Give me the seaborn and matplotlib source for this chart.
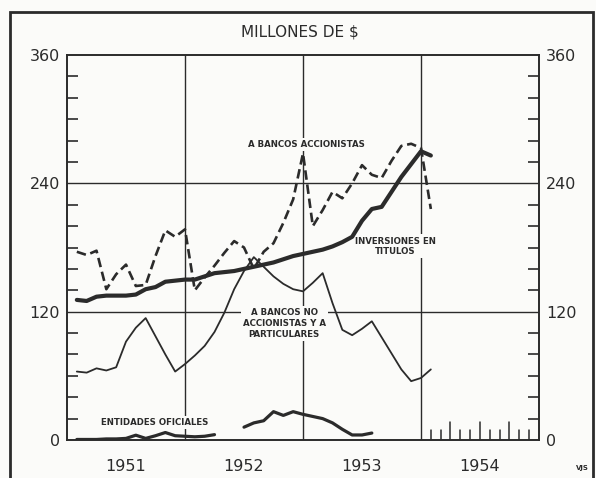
import matplotlib
matplotlib.use("Agg")

import matplotlib.pyplot as plt
import matplotlib.patches as mpatches
from matplotlib.ticker import MultipleLocator
import numpy as np
import pandas as pd
import seaborn as sns

# meses contados desde enero 1951 (1 = fin de enero 1951 ... 37 = fin de enero 1954)
meses = list(range(1, 38))

a_bancos_accionistas = [176, 173, 177, 141, 155, 164, 144, 145, 172, 196, 190, 197,
                        140, 152, 163, 175, 186, 180, 160, 176, 184, 203, 225, 268,
                        200, 215, 232, 226, 240, 257, 248, 245, 261, 275, 277, 273, 216]

inversiones_en_titulos = [131, 130, 134, 135, 135, 135, 136, 141, 143, 148, 149, 150,
                          150, 153, 156, 157, 158, 160, 162, 164, 166, 169, 172, 174,
                          176, 178, 181, 185, 190, 205, 216, 218, 232, 246, 258, 270, 266]

a_bancos_no_accionistas = [64, 63, 67, 65, 68, 92, 105, 114, 97, 80, 64, 71,
                           79, 88, 101, 119, 141, 158, 171, 162, 153, 146, 141, 139,
                           147, 156, 128, 103, 98, 104, 111, 96, 81, 66, 55, 58, 66]

nan = np.nan
entidades_oficiales = [0.5, 0.5, 0.5, 1, 1, 1.5, 4.5, 1.5, 4, 7, 4, 3.5,
                       3, 3.5, 5, nan, nan, 12, 16, 18, 26.5, 23, 26.5, 24,
                       22, 20, 16, 10, 4.7, 4.7, 6.5, nan, nan, nan, nan, nan, nan]

anios = ["1951", "1952", "1953", "1954"]
ticks_y = [0, 120, 240, 360]

df = pd.DataFrame({
    "mes": meses,
    "accionistas": a_bancos_accionistas,
    "inversiones": inversiones_en_titulos,
    "no_accionistas": a_bancos_no_accionistas,
    "oficiales": entidades_oficiales,
})
ofi = df[["mes", "oficiales"]].dropna().copy()
ofi["tramo"] = (ofi["mes"] > 16).astype(int)

sns.set_style("white")
plt.rcParams["font.family"] = ["DejaVu Sans"]

tinta = "#2b2b2b"
fondo = "#fbfbf9"

fig = plt.figure(figsize=(5.96, 4.78), dpi=100, facecolor=fondo)
ax = fig.add_axes([67 / 596, 38 / 478, 472 / 596, 385 / 478])
ax.set_facecolor(fondo)

# reticula
for m in [12, 24, 36]:
    ax.axvline(m, color=tinta, lw=1.0, zorder=1)
for v in [120, 240]:
    ax.axhline(v, color=tinta, lw=1.0, zorder=1)

sns.lineplot(data=df, x="mes", y="accionistas", ax=ax, color=tinta, lw=1.9,
             linestyle=(0, (3.6, 1.8)), zorder=3)
sns.lineplot(data=df, x="mes", y="inversiones", ax=ax, color=tinta, lw=3.0, zorder=3)
sns.lineplot(data=df, x="mes", y="no_accionistas", ax=ax, color=tinta, lw=1.3, zorder=3)
sns.lineplot(data=ofi, x="mes", y="oficiales", units="tramo", estimator=None, ax=ax,
             color=tinta, lw=2.3, zorder=3)

ax.set_xlim(0, 48)
ax.set_ylim(0, 360)
ax.set_xlabel("")
ax.set_ylabel("")

# ejes
for s in ax.spines.values():
    s.set_visible(True)
    s.set_color(tinta)
    s.set_linewidth(1.4)

ax.set_yticks(ticks_y)
ax.set_yticklabels([str(t) for t in ticks_y])
ax.yaxis.set_minor_locator(MultipleLocator(20))
ax.yaxis.set_ticks_position("both")
ax.tick_params(axis="y", which="major", length=0, labelsize=11.5, labelcolor=tinta,
               labelleft=True, labelright=True, pad=5)
ax.tick_params(axis="y", which="minor", direction="in", length=8, width=1.2,
               color=tinta, left=True, right=True)

ax.set_xticks([6, 18, 30, 42])
ax.set_xticklabels(anios)
ax.tick_params(axis="x", which="major", length=0, labelsize=11.5, labelcolor=tinta, pad=14)

# marcas mensuales de 1954
trans = ax.get_xaxis_transform()
for k in range(37, 48):
    alto = 0.047 if k % 3 == 0 else 0.026
    ax.plot([k, k], [0, alto], transform=trans, color=tinta, lw=1.1, zorder=2)

# rotulos
caja = dict(facecolor=fondo, edgecolor="none", pad=1.5)
kw = dict(ha="center", va="center", fontsize=6.2, fontweight="bold", color=tinta,
          bbox=caja, zorder=2, linespacing=1.25)
ax.text(24.4, 276, "A BANCOS ACCIONISTAS", **kw)
ax.text(33.4, 181, "INVERSIONES EN\nTITULOS", **kw)
ax.text(22.1, 109, "A BANCOS NO\nACCIONISTAS Y A\nPARTICULARES", **kw)
ax.text(8.9, 16, "ENTIDADES OFICIALES", **kw)

fig.text(300 / 596, 1 - 32 / 478, "MILLONES DE $", ha="center", va="center",
         fontsize=11, color=tinta)
fig.text(582 / 596, 1 - 468 / 478, "VJS", ha="center", va="center", fontsize=5,
         fontweight="bold", color=tinta)

# marco exterior
marco = mpatches.Rectangle((10 / 596, -0.02), 583 / 596, 1 - 12 / 478 + 0.02,
                           transform=fig.transFigure, fill=False, edgecolor=tinta,
                           lw=2.0, clip_on=False)
fig.patches.append(marco)

fig.savefig("out.png", dpi=100, facecolor=fondo)
